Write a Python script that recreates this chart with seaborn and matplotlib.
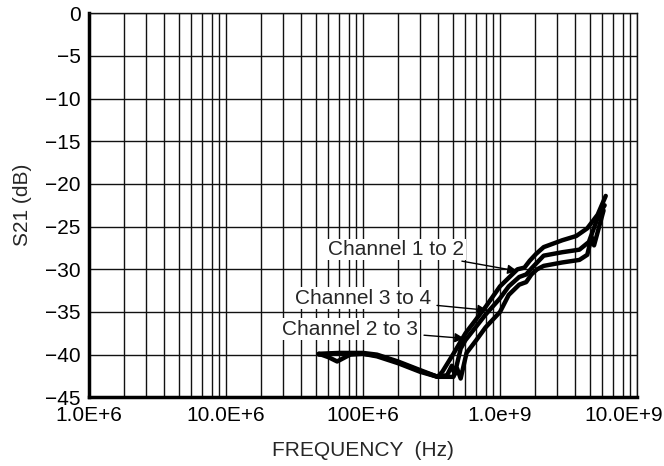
import numpy as np
import pandas as pd
import seaborn as sns
import matplotlib.pyplot as plt
from matplotlib.scale import FuncScale
from matplotlib.transforms import ScaledTranslation

# datos (frecuencia en MHz, S21 en dB)
ch12_f = [52, 70, 100, 140, 200, 300, 400, 430, 500, 600, 800, 1000, 1250, 1500,
          1700, 1850, 2050, 2400, 3300, 4100, 4800, 5600, 6300]
ch12_db = [-39.9, -39.8, -39.8, -40.0, -40.8, -41.8, -42.6, -42.0, -39.9, -37.5,
           -34.4, -32.0, -31.0, -30.0, -29.8, -29.0, -28.2, -27.4, -26.6, -26.1,
           -25.2, -23.6, -21.4]

ch34_f = [52, 65, 100, 140, 200, 300, 400, 460, 490, 510, 560, 600, 800, 1000,
          1250, 1550, 1750, 1900, 2100, 2400, 3300, 4300, 4900, 5700, 6200]
ch34_db = [-40.0, -39.9, -39.9, -40.1, -40.9, -41.9, -42.6, -42.4, -41.3, -42.3,
           -39.3, -38.3, -35.3, -33.4, -32.0, -30.9, -30.6, -29.9, -29.2, -28.4,
           -28.0, -27.7, -26.8, -23.6, -22.5]

ch23_f = [52, 60, 68, 82, 100, 140, 200, 300, 400, 500, 530, 560, 610, 700, 800,
          1000, 1250, 1550, 1750, 1900, 2100, 2400, 3300, 4300, 4800, 5100, 5300, 6100]
ch23_db = [-39.9, -40.3, -40.8, -40.0, -39.9, -40.2, -41.0, -42.0, -42.6, -42.6,
           -41.6, -42.8, -39.8, -38.3, -36.8, -35.0, -33.0, -31.8, -31.5, -30.6,
           -30.0, -29.6, -29.2, -28.9, -28.3, -26.2, -27.2, -23.1]

# etiquetas y flechas (punta en MHz, dB)
labels = ['Channel 1 to 2', 'Channel 3 to 4', 'Channel 2 to 3']
tips_f = [1490, 820, 590]
tips_db = [-30.2, -34.8, -38.1]

xticks = [1e6, 1e7, 1e8, 1e9, 1e10]
xticklabels = ['1.0E+6', '10.0E+6', '100E+6', '1.0e+9', '10.0E+9']
yticks = list(range(0, -50, -5))

df = pd.concat([
    pd.DataFrame({'f': np.array(ch12_f) * 1e6, 'db': ch12_db, 'ch': 'Channel 1 to 2'}),
    pd.DataFrame({'f': np.array(ch34_f) * 1e6, 'db': ch34_db, 'ch': 'Channel 3 to 4'}),
    pd.DataFrame({'f': np.array(ch23_f) * 1e6, 'db': ch23_db, 'ch': 'Channel 2 to 3'}),
])

sns.set_style('white')
plt.rcParams['font.family'] = ['Liberation Sans', 'DejaVu Sans']

# la rejilla del original no es un log exacto dentro de cada decada
mult = [1, 2, 3, 4, 5, 6, 7, 8, 9, 10]
frac = [0, .255, .415, .545, .66, .748, .827, .895, .95, 1]


def fwd(x):
    lx = np.log10(np.clip(np.asarray(x, float), 1e-300, None))
    d = np.floor(lx)
    return d + np.interp(10 ** (lx - d), mult, frac)


def inv(y):
    y = np.asarray(y, float)
    d = np.floor(y)
    return np.interp(y - d, frac, mult) * 10 ** d


fig = plt.figure(figsize=(6.64, 4.66), dpi=100)
ax = fig.add_axes([89 / 664, 1 - 397.3 / 466, 548 / 664, 384 / 466])
ax.set_xscale(FuncScale(ax, (fwd, inv)))

sns.lineplot(data=df, x='f', y='db', hue='ch', units='ch', estimator=None,
             palette=['black'] * 3, linewidth=3.2, legend=False, sort=False, ax=ax)

ax.set_xlim(1e6, 1e10)
ax.set_ylim(-45, 0)
ax.set_xticks(xticks)
ax.set_xticklabels(xticklabels)
minors = [m * 10 ** d for d in range(6, 10) for m in range(2, 10)]
ax.set_xticks(minors, minor=True)
ax.set_yticks(yticks)
ax.set_yticklabels(['0'] + ['\u2212%d' % -v for v in yticks[1:]])
ax.grid(True, which='both', color='#111111', linewidth=1.0)
ax.tick_params(which='both', length=0, labelsize=15, colors='black')
ax.tick_params(axis='y', pad=6)
ax.tick_params(axis='x', pad=6)

for s in ['left', 'bottom']:
    ax.spines[s].set_linewidth(2.5)
    ax.spines[s].set_color('black')
for s in ['top', 'right']:
    ax.spines[s].set_linewidth(1.0)
    ax.spines[s].set_color('#111111')

# ultima etiqueta corrida a la izquierda para que quepa
last = ax.get_xticklabels()[-1]
last.set_transform(last.get_transform() + ScaledTranslation(-0.13, 0, fig.dpi_scale_trans))

ax.set_xlabel('FREQUENCY  (Hz)', fontsize=15)
ax.set_ylabel('S21 (dB)', fontsize=15)
ax.xaxis.set_label_coords(0.5, -0.114)
ax.yaxis.set_label_coords(-0.104, 0.5)

text_pos = [(0.561, 0.385), (0.5006, 0.2578), (0.477, 0.177)]
for lab, tf, tdb, pos in zip(labels, tips_f, tips_db, text_pos):
    ax.annotate(lab, xy=(tf * 1e6, tdb), xycoords='data', xytext=pos,
                textcoords='axes fraction', ha='center', va='center', fontsize=15,
                bbox=dict(fc='white', ec='none', pad=1),
                arrowprops=dict(arrowstyle='-|>', color='black', lw=1,
                                mutation_scale=14, shrinkA=3, shrinkB=0))

fig.savefig('out.png', dpi=100)
